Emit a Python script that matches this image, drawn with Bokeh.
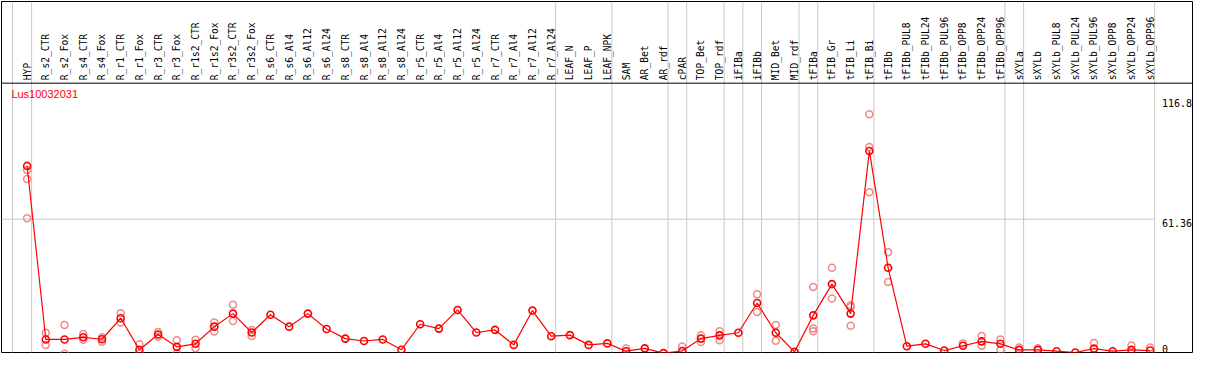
import numpy as np
from bokeh.plotting import figure
from bokeh.models import Range1d, Span, ColumnDataSource
from bokeh.core.properties import value
from bokeh.embed import file_html
from bokeh.resources import INLINE

gene_name = "Lus10032031"

categories = [
    "HYP", "R_s2_CTR", "R_s2_Fox", "R_s4_CTR", "R_s4_Fox", "R_r1_CTR", "R_r1_Fox",
    "R_r3_CTR", "R_r3_Fox", "R_r1s2_CTR", "R_r1s2_Fox", "R_r3s2_CTR", "R_r3s2_Fox",
    "R_s6_CTR", "R_s6_Al4", "R_s6_Al12", "R_s6_Al24", "R_s8_CTR", "R_s8_Al4",
    "R_s8_Al12", "R_s8_Al24", "R_r5_CTR", "R_r5_Al4", "R_r5_Al12", "R_r5_Al24",
    "R_r7_CTR", "R_r7_Al4", "R_r7_Al12", "R_r7_Al24", "LEAF_N", "LEAF_P", "LEAF_NPK",
    "SAM", "AR_Bet", "AR_rdf", "cPAR", "TOP_Bet", "TOP_rdf", "iFIBa", "iFIBb",
    "MID_Bet", "MID_rdf", "tFIBa", "tFIB_Gr", "tFIB_Li", "tFIB_Bi", "tFIBb",
    "tFIBb_PUL8", "tFIBb_PUL24", "tFIBb_PUL96", "tFIBb_OPP8", "tFIBb_OPP24",
    "tFIBb_OPP96", "sXYLa", "sXYLb", "sXYLb_PUL8", "sXYLb_PUL24", "sXYLb_PUL96",
    "sXYLb_OPP8", "sXYLb_OPP24", "sXYLb_OPP96",
]

mean_values = [
    85.9, 6.0, 6.0, 7.0, 6.1, 15.8, 1.3,
    8.3, 2.6, 4.0, 11.9, 17.9, 9.2,
    17.4, 11.9, 17.9, 10.8, 6.4, 5.3,
    6.0, 1.3, 13.0, 11.0, 19.6, 9.2,
    10.4, 3.5, 19.3, 7.5, 8.0, 3.5, 4.2,
    0.6, 1.9, -0.3, 0.7, 6.4, 7.9, 9.1, 22.8,
    9.1, 0.3, 17.1, 31.5, 17.9, 92.8, 39.0,
    2.9, 4.0, 0.9, 3.1, 5.1,
    4.0, 1.2, 1.2, 0.6, 0.0, 1.8,
    0.6, 1.2, 0.9,
]

rep_category = [
    "HYP", "HYP", "HYP", "R_s2_CTR", "R_s2_CTR", "R_s2_Fox", "R_s2_Fox",
    "R_s4_CTR", "R_s4_CTR", "R_s4_Fox", "R_s4_Fox", "R_r1_CTR", "R_r1_CTR",
    "R_r1_Fox", "R_r1_Fox", "R_r3_CTR", "R_r3_CTR", "R_r3_Fox", "R_r3_Fox",
    "R_r1s2_CTR", "R_r1s2_CTR", "R_r1s2_Fox", "R_r1s2_Fox", "R_r3s2_CTR", "R_r3s2_CTR",
    "R_r3s2_Fox", "R_r3s2_Fox", "SAM", "cPAR", "TOP_Bet", "TOP_Bet", "TOP_rdf", "TOP_rdf",
    "iFIBb", "iFIBb", "MID_Bet", "MID_Bet", "tFIBa", "tFIBa", "tFIBa",
    "tFIB_Gr", "tFIB_Gr", "tFIB_Li", "tFIB_Li", "tFIB_Li",
    "tFIB_Bi", "tFIB_Bi", "tFIB_Bi", "tFIBb", "tFIBb",
    "tFIBb_OPP8", "tFIBb_OPP24", "tFIBb_OPP24", "tFIBb_OPP96", "tFIBb_OPP96",
    "sXYLa", "sXYLb", "sXYLb_PUL96", "sXYLb_OPP24", "sXYLb_OPP96",
]
rep_value = [
    84.0, 79.9, 61.8, 9.1, 3.5, 12.7, -0.6,
    8.5, 5.9, 7.0, 5.0, 18.1, 13.8,
    3.8, -0.3, 9.4, 7.3, 5.6, -0.4,
    5.9, 2.0, 13.8, 9.7, 22.0, 14.5,
    10.4, 7.6, 1.8, 2.8, 7.9, 4.8, 9.8, 5.6,
    26.8, 18.7, 12.7, 5.4, 30.2, 11.1, 9.8,
    39.0, 24.9, 21.8, 20.9, 12.3,
    109.7, 94.6, 73.8, 46.1, 32.5,
    4.2, 7.6, 3.1, 6.0, 1.3,
    2.3, 2.0, 4.4, 3.2, 2.3,
]

group_last = [
    "HYP", "R_r7_Al24", "LEAF_NPK", "AR_rdf", "cPAR", "TOP_rdf", "iFIBa", "iFIBb",
    "MID_rdf", "tFIBa", "tFIB_Bi", "tFIBb_OPP96", "sXYLa", "sXYLb_OPP96",
]

y_ticks = [0, 61.36, 116.8]
y_tick_labels = ["0", "61.36", "116.8"]

# ---------------- layout ----------------
idx = {c: i for i, c in enumerate(categories)}
X_START, X_END = -1.368, 62.263
Y_END = 161.6
HEADER = 124.0
GREY = "#c8c8c8"

p = figure(width=1193, height=354, x_range=Range1d(X_START, X_END),
           y_range=Range1d(0, Y_END), output_backend="svg", toolbar_location=None,
           x_axis_location=None, y_axis_location=None,
           min_border_left=1, min_border_right=1, min_border_top=1, min_border_bottom=2)
p.grid.visible = False
p.outline_line_color = "black"
p.outline_line_width = 1
p.background_fill_color = "white"
p.border_fill_color = "white"

sep_positions = [-1 + 0.22] + [idx[c] + 0.24 for c in group_last]
for s in sep_positions:
    p.add_layout(Span(location=s, dimension="height", line_color=GREY,
                      line_width=1, level="underlay"))

p.segment(x0=[X_START], y0=[y_ticks[1]], x1=[sep_positions[-1]], y1=[y_ticks[1]],
          line_color=GREY, line_width=1, level="underlay")

p.add_layout(Span(location=HEADER, dimension="width", line_color="black",
                  line_width=1, level="underlay"))

# category labels (vertical)
lab_src = ColumnDataSource(dict(x=list(range(len(categories))),
                                y=[HEADER] * len(categories), text=categories))
p.text(x="x", y="y", text="text", source=lab_src, angle=np.pi / 2,
       text_align="left", text_baseline="middle", y_offset=-3,
       text_font=value("DejaVu Sans Mono"), text_font_size="9.6px", text_color="black")

# gene name
p.text(x=[-0.84], y=[HEADER], text=[gene_name], text_align="left", text_baseline="top",
       y_offset=5, text_font=value("Liberation Sans"), text_font_size="11px",
       text_color="red")

# replicates
rep_src = ColumnDataSource(dict(x=[idx[c] for c in rep_category], y=rep_value))
p.scatter(x="x", y="y", source=rep_src, marker="circle", size=7, fill_color=None,
          line_color="#ee8a8a", line_width=1.5)

# mean line + markers
m_src = ColumnDataSource(dict(x=list(range(len(categories))), y=mean_values))
p.line(x="x", y="y", source=m_src, line_color="red", line_width=1.2)
p.scatter(x="x", y="y", source=m_src, marker="circle", size=7, fill_color=None,
          line_color="red", line_width=1.6)

# y tick labels (inside the right margin of the box)
tick_x = len(categories) - 1 + 0.63
upper = [(t, l) for t, l in zip(y_ticks, y_tick_labels) if t > 0]
lower = [(t, l) for t, l in zip(y_ticks, y_tick_labels) if t <= 0]
p.text(x=[tick_x] * len(upper), y=[t for t, _ in upper], text=[l for _, l in upper],
       text_align="left", text_baseline="top", y_offset=0,
       text_font=value("DejaVu Sans Mono"), text_font_size="10px", text_color="black")
p.text(x=[tick_x] * len(lower), y=[t for t, _ in lower], text=[l for _, l in lower],
       text_align="left", text_baseline="bottom", y_offset=0,
       text_font=value("DejaVu Sans Mono"), text_font_size="10px", text_color="black")

open("out.html", "w").write(file_html(p, INLINE))
